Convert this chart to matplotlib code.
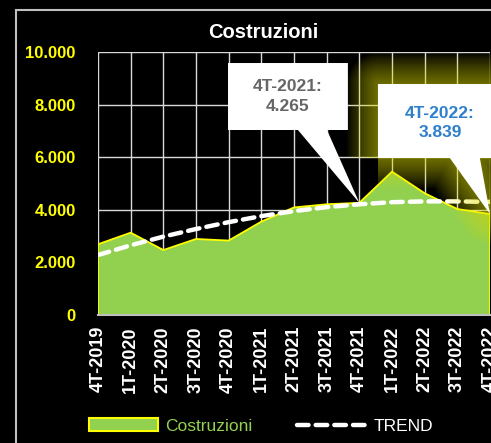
import matplotlib
matplotlib.use("Agg")
import matplotlib.pyplot as plt
from matplotlib.patches import Rectangle, Polygon
import numpy as np

categories = ["4T-2019", "1T-2020", "2T-2020", "3T-2020", "4T-2020", "1T-2021",
              "2T-2021", "3T-2021", "4T-2021", "1T-2022", "2T-2022", "3T-2022", "4T-2022"]
costruzioni = [2690, 3130, 2470, 2890, 2830, 3550, 4090, 4210, 4265, 5450, 4630, 4030, 3839]
trend = [2280, 2650, 2980, 3270, 3530, 3760, 3950, 4100, 4210, 4290, 4320, 4320, 4300]
yticks = [0, 2000, 4000, 6000, 8000, 10000]

plt.rcParams['font.family'] = ['Liberation Sans', 'DejaVu Sans']

W, H = 491, 443
fig = plt.figure(figsize=(W / 100, H / 100), dpi=100, facecolor='black')

# outer chart frame
fig.patches.append(Rectangle((16 / W, -0.05), 1.0, 1 - 10 / H + 0.05,
                             transform=fig.transFigure, facecolor='none',
                             edgecolor='#bfbfbf', linewidth=1.5, zorder=0))

ax = fig.add_axes([98 / W, 1 - 315 / H, (490 - 98) / W, (315 - 52) / H])
ax.set_facecolor('black')
x = np.arange(len(categories))

ax.fill_between(x, costruzioni, 0, facecolor='#92D050', edgecolor='none', zorder=2,
                label='Costruzioni')
ax.plot(np.concatenate([[x[0]], x, [x[-1]]]), [0] + costruzioni + [0],
        color='#FFFF00', linewidth=1.3, zorder=3)
ax.plot(x, trend, color='white', linewidth=3.2, linestyle=(0, (2.6, 1.6)),
        dash_capstyle='round', zorder=4, label='TREND')

ax.set_xlim(0, len(categories) - 1)
ax.set_ylim(0, 10000)
ax.set_xticks(x)
ax.set_xticklabels(categories, rotation=90, color='white', fontweight='bold', fontsize=13)
ax.set_yticks(yticks)
ax.set_yticklabels([f"{v:,.0f}".replace(',', '.') for v in yticks],
                   color='#FFFF00', fontweight='bold', fontsize=12)
ax.tick_params(axis='y', length=0, pad=16)
ax.tick_params(axis='x', length=0, pad=8)
ax.grid(True, color='#d9d9d9', linewidth=1, zorder=1)
ax.set_axisbelow(True)
for s in ['top', 'left', 'right']:
    ax.spines[s].set_visible(False)
ax.spines['bottom'].set_color('#bfbfbf')
ax.spines['bottom'].set_linewidth(1.5)
ax.spines['bottom'].set_zorder(5)

# Callout 1 (4T-2021)
i1 = categories.index("4T-2021")
b1 = (3.98, 7034, 7.65, 9581)
shape1 = [(b1[0], b1[1]), (6.12, b1[1]), (x[i1], costruzioni[i1]), (7.01, b1[1]),
          (b1[2], b1[1]), (b1[2], b1[3]), (b1[0], b1[3])]
ax.add_patch(Polygon(shape1, closed=True, facecolor='white', edgecolor='none',
                     zorder=10, clip_on=False))
ax.text((b1[0] + b1[2]) / 2, (b1[1] + b1[3]) / 2,
        f"{categories[i1]}:\n{costruzioni[i1]:,}".replace(',', '.'),
        ha='center', va='center', color='#666666', fontsize=12.5, fontweight='bold',
        linespacing=1.35, zorder=11)

# Callout 2 (4T-2022) with yellow glow
i2 = categories.index("4T-2022")
b2 = (8.57, 5969, 12.3, 8783)
shape2 = [(b2[0], b2[1]), (10.77, b2[1]), (x[i2], costruzioni[i2]), (11.69, b2[1]),
          (b2[2], b2[1]), (b2[2], b2[3]), (b2[0], b2[3])]
for lw in np.arange(44, 0, -3):
    ax.add_patch(Polygon(shape2, closed=True, facecolor='none', edgecolor='#E8E800',
                         linewidth=lw, alpha=0.042, joinstyle='round',
                         zorder=8, clip_on=False))
ax.add_patch(Polygon(shape2, closed=True, facecolor='white', edgecolor='none',
                     zorder=10, clip_on=False))
ax.text(10.47, 7300,
        f"{categories[i2]}:\n{costruzioni[i2]:,}".replace(',', '.'),
        ha='center', va='center', color='#2E7FCC', fontsize=12.5, fontweight='bold',
        linespacing=1.35, zorder=11)

# Title
fig.text(263 / W, 1 - 32 / H, "Costruzioni", ha='center', va='center',
         color='white', fontsize=14.5, fontweight='bold')

# Legend
leg = fig.legend(loc='center', bbox_to_anchor=(261 / W, 1 - 426 / H), ncol=2,
                 frameon=False, fontsize=12.5, handlelength=4.0, handletextpad=0.4,
                 columnspacing=2.6)
leg.legend_handles[0].set_edgecolor('#FFFF00')
leg.legend_handles[0].set_linewidth(1.5)
texts = leg.get_texts()
texts[0].set_color('#92D050')
texts[1].set_color('white')

fig.savefig('out.png', dpi=100, facecolor='black')
